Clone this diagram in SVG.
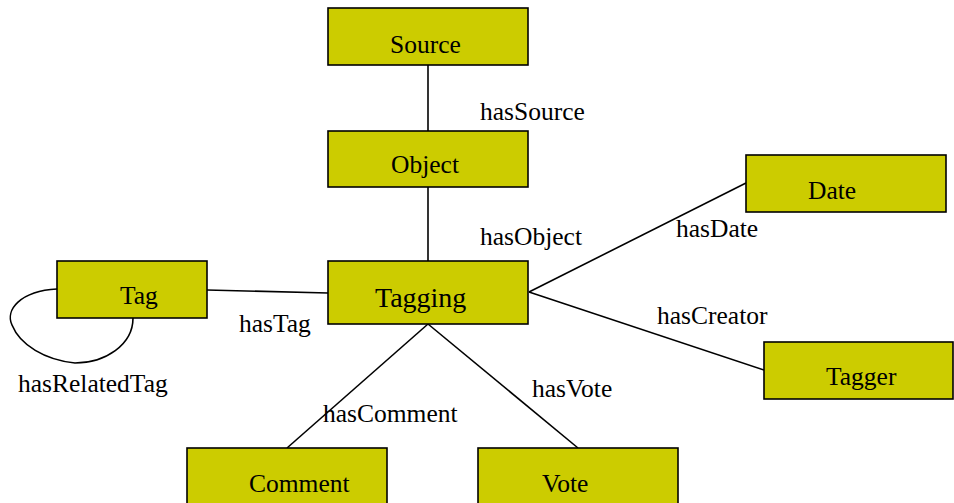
<svg xmlns="http://www.w3.org/2000/svg" width="954" height="503" viewBox="0 0 954 503">
<style>
.box{fill:#CCCC00;stroke:#000;stroke-width:1.6}
.lbl{font-family:"Liberation Serif","Times New Roman",serif;font-size:25.5px;fill:#000}
.big{font-family:"Liberation Serif","Times New Roman",serif;font-size:28px;fill:#000}
.edge{fill:none;stroke:#000;stroke-width:1.6}
</style>
<rect width="954" height="503" fill="#fff"/>
<g id="connectors">
<line class="edge" x1="428" y1="65" x2="428" y2="131"/>
<line class="edge" x1="428" y1="187" x2="428" y2="261"/>
<line class="edge" x1="207" y1="290" x2="328" y2="293"/>
<path class="edge" d="M57,289 C20,291 5,310 12,325 C20,345 45,360 75,363 C105,363 133,345 133,318"/>
<line class="edge" x1="529" y1="292" x2="746" y2="183"/>
<line class="edge" x1="529" y1="292" x2="764" y2="370"/>
<line class="edge" x1="428" y1="324" x2="287" y2="448"/>
<line class="edge" x1="428" y1="324" x2="578" y2="448"/>
<text class="lbl" x="480" y="120">hasSource</text>
<text class="lbl" x="480" y="245">hasObject</text>
<text class="lbl" x="676" y="237">hasDate</text>
<text class="lbl" x="657" y="324">hasCreator</text>
<text class="lbl" x="239" y="332">hasTag</text>
<text class="lbl" x="18" y="392">hasRelatedTag</text>
<text class="lbl" x="323" y="422">hasComment</text>
<text class="lbl" x="532" y="397">hasVote</text>
</g>
<g id="source"><rect class="box" x="328" y="8" width="200" height="57"/><text class="lbl" x="390" y="53">Source</text></g>
<g id="object"><rect class="box" x="328" y="131" width="200" height="56"/><text class="lbl" x="391" y="173">Object</text></g>
<g id="tagging"><rect class="box" x="328" y="261" width="200" height="63"/><text class="big" x="375" y="307">Tagging</text></g>
<g id="tag"><rect class="box" x="57" y="261" width="150" height="57"/><text class="lbl" x="120" y="304">Tag</text></g>
<g id="date"><rect class="box" x="746" y="155" width="200" height="57"/><text class="lbl" x="808" y="199">Date</text></g>
<g id="tagger"><rect class="box" x="764" y="342" width="189" height="57"/><text class="lbl" x="826" y="385">Tagger</text></g>
<g id="comment"><rect class="box" x="187" y="448" width="200" height="60"/><text class="lbl" x="249" y="492">Comment</text></g>
<g id="vote"><rect class="box" x="478" y="448" width="200" height="60"/><text class="lbl" x="542" y="492">Vote</text></g>
</svg>
